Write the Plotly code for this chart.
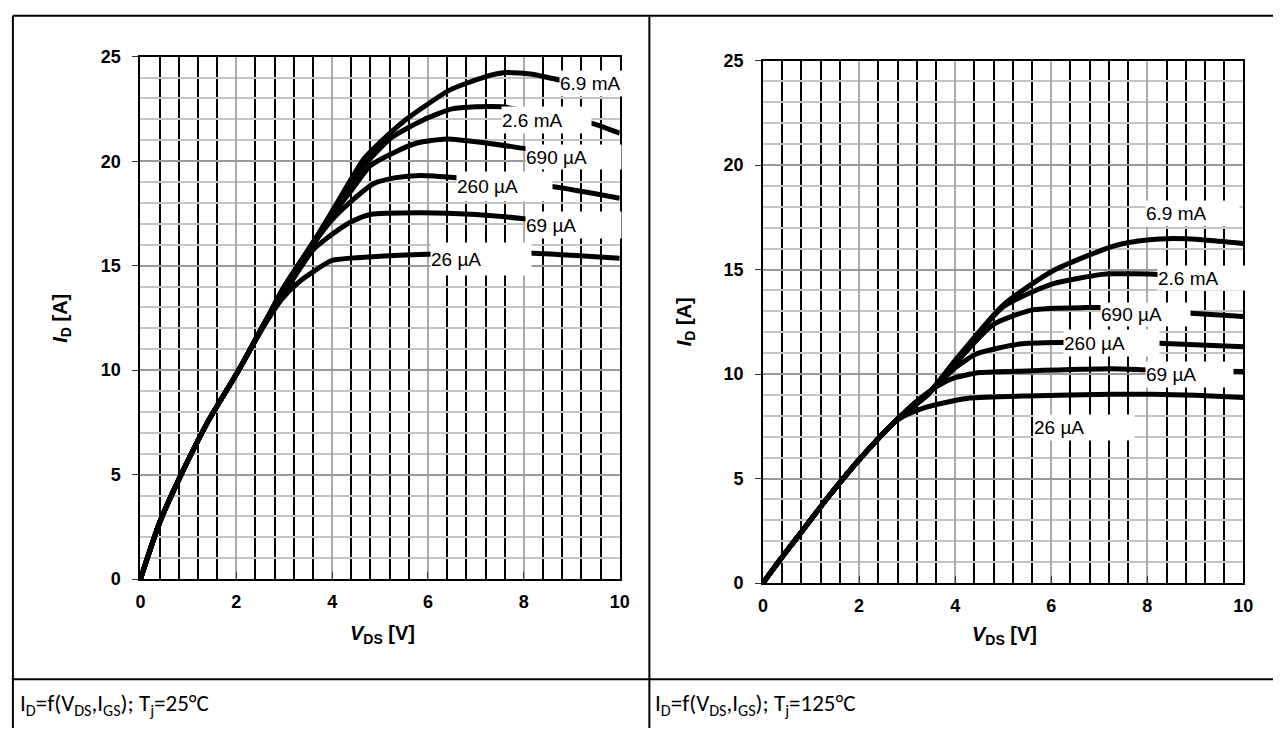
import plotly.graph_objects as go

W, H = 1283, 738

# ---------------- data ----------------
curve_labels = ["26 µA", "69 µA", "260 µA", "690 µA", "2.6 mA", "6.9 mA"]

# Tj = 25 °C
v25_26u = [0, 0.4, 0.85, 1.4, 2.05, 2.6, 2.95, 3.3, 3.6, 4.0, 5.0, 6.0, 7.0, 8.2, 9.0, 10.0]
i25_26u = [0, 2.7, 5.0, 7.5, 10.0, 12.2, 13.4, 14.2, 14.7, 15.25, 15.45, 15.55, 15.6, 15.6, 15.5, 15.35]
v25_69u = [0, 0.4, 0.85, 1.4, 2.05, 2.6, 3.0, 3.6, 4.0, 4.4, 4.8, 5.8, 7.0, 8.0, 9.0, 10.0]
i25_69u = [0, 2.7, 5.0, 7.5, 10.0, 12.3, 13.7, 15.75, 16.5, 17.1, 17.45, 17.53, 17.45, 17.25, 17.0, 16.8]
v25_260u = [0, 0.4, 0.85, 1.4, 2.05, 2.6, 3.0, 3.6, 4.0, 4.32, 4.87, 5.3, 5.84, 6.6, 7.5, 8.62, 10.0]
i25_260u = [0, 2.7, 5.0, 7.5, 10.0, 12.3, 13.8, 16.0, 17.2, 17.92, 18.93, 19.2, 19.32, 19.21, 19.0, 18.78, 18.23]
v25_690u = [0, 0.4, 0.85, 1.4, 2.05, 2.6, 3.0, 3.6, 4.0, 4.4, 4.8, 5.35, 5.77, 6.39, 7.21, 8.04, 9.0, 10.0]
i25_690u = [0, 2.7, 5.0, 7.5, 10.0, 12.3, 13.9, 16.0, 17.4, 18.6, 19.79, 20.48, 20.87, 21.06, 20.87, 20.6, 20.3, 20.0]
v25_2m6 = [0, 0.4, 0.85, 1.4, 2.05, 2.6, 3.0, 3.6, 4.0, 4.6, 5.22, 5.9, 6.5, 7.0, 7.55, 8.5, 9.44, 10.0]
i25_2m6 = [0, 2.7, 5.0, 7.5, 10.0, 12.3, 14.0, 16.1, 17.5, 19.6, 21.1, 21.97, 22.5, 22.6, 22.6, 22.2, 21.8, 21.34]
v25_6m9 = [0, 0.4, 0.85, 1.4, 2.05, 2.6, 3.0, 3.6, 4.0, 4.66, 5.0, 5.49, 5.9, 6.45, 7.21, 7.62, 8.2, 8.72, 10.0]
i25_6m9 = [0, 2.7, 5.0, 7.5, 10.0, 12.3, 14.0, 16.1, 17.6, 20.1, 20.9, 21.9, 22.58, 23.4, 24.05, 24.24, 24.15, 23.9, 23.5]

# Tj = 125 °C
v125_26u = [0, 0.35, 0.7, 1.37, 2.0, 2.8, 3.29, 3.97, 4.31, 5.5, 7.26, 8.09, 9.0, 10.0]
i125_26u = [0, 1.1, 2.15, 4.15, 5.9, 7.8, 8.33, 8.72, 8.85, 8.95, 9.03, 9.03, 8.98, 8.88]
v125_69u = [0, 0.35, 0.7, 1.37, 2.0, 2.8, 3.2, 3.63, 3.97, 4.52, 5.5, 7.26, 8.02, 9.0, 10.0]
i125_69u = [0, 1.1, 2.15, 4.15, 5.9, 7.85, 8.7, 9.42, 9.81, 10.07, 10.15, 10.25, 10.2, 10.15, 10.12]
v125_260u = [0, 0.35, 0.7, 1.37, 2.0, 2.8, 3.42, 4.0, 4.45, 5.34, 6.23, 7.2, 8.25, 9.0, 10.0]
i125_260u = [0, 1.1, 2.15, 4.15, 5.9, 7.85, 9.0, 10.3, 10.97, 11.44, 11.51, 11.5, 11.47, 11.4, 11.31]
v125_690u = [0, 0.35, 0.7, 1.37, 2.0, 2.8, 3.42, 4.0, 4.79, 5.62, 6.72, 7.06, 8.0, 8.91, 10.0]
i125_690u = [0, 1.1, 2.15, 4.15, 5.9, 7.85, 9.0, 10.5, 12.37, 13.07, 13.18, 13.18, 13.05, 12.91, 12.76]
v125_2m6 = [0, 0.35, 0.7, 1.37, 2.0, 2.8, 3.42, 4.0, 5.0, 6.03, 7.06, 7.26, 8.22, 9.0, 10.0]
i125_2m6 = [0, 1.1, 2.15, 4.15, 5.9, 7.85, 9.0, 10.6, 13.22, 14.31, 14.77, 14.8, 14.77, 14.6, 14.4]
v125_6m9 = [0, 0.35, 0.7, 1.37, 2.0, 2.8, 3.42, 4.0, 5.0, 6.03, 7.26, 7.81, 8.43, 9.2, 10.0]
i125_6m9 = [0, 1.1, 2.15, 4.15, 5.9, 7.85, 9.0, 10.65, 13.3, 14.93, 16.1, 16.37, 16.48, 16.42, 16.25]

x_tick_vals = [0, 2, 4, 6, 8, 10]
y_tick_vals = [0, 5, 10, 15, 20, 25]

captions = ["I<sub>D</sub>=f(V<sub>DS</sub>,I<sub>GS</sub>); T<sub>j</sub>=25°C",
            "I<sub>D</sub>=f(V<sub>DS</sub>,I<sub>GS</sub>); T<sub>j</sub>=125°C"]

panels = [
    ("x", "y", [(v25_26u, i25_26u), (v25_69u, i25_69u), (v25_260u, i25_260u),
                (v25_690u, i25_690u), (v25_2m6, i25_2m6), (v25_6m9, i25_6m9)]),
    ("x2", "y2", [(v125_26u, i125_26u), (v125_69u, i125_69u), (v125_260u, i125_260u),
                  (v125_690u, i125_690u), (v125_2m6, i125_2m6), (v125_6m9, i125_6m9)]),
]

# ---------------- styling / placement ----------------
# label boxes: (x_data_center, y_data_center, width_px, height_px) in order of curve_labels
label_boxes = [
    [(7.11, 15.32, 100, 32), (9.04, 16.95, 95, 26), (7.60, 18.78, 95, 29),
     (9.04, 20.20, 95, 24), (8.48, 21.97, 89, 26), (9.46, 23.72, 68, 25)],
    [(6.69, 7.43, 100, 25), (8.88, 9.99, 87, 25), (7.25, 11.48, 95, 26),
     (7.97, 12.83, 89, 23), (9.14, 14.62, 88, 24), (8.94, 17.67, 93, 25)],
]

def px2x(p):
    return p / W

def px2y(p):
    return 1 - p / H

domains = [
    dict(x=[px2x(137), px2x(622)], y=[px2y(585), px2y(48)]),
    dict(x=[px2x(767), px2x(1253)], y=[px2y(589), px2y(52)]),
]

fig = go.Figure()

for (xa, ya, curves) in panels:
    for (vx, iy) in curves:
        fig.add_trace(go.Scatter(x=vx, y=iy, xaxis=xa, yaxis=ya, mode="lines",
                                 line=dict(color="black", width=5, shape="spline", smoothing=0.6),
                                 showlegend=False, hoverinfo="skip"))

tick_font = dict(family="Liberation Sans, Arial, sans-serif", size=18, color="black", weight="bold")

def xaxis_cfg(dom, anchor):
    return dict(domain=dom, anchor=anchor, range=[0, 10], tickmode="array", tickvals=x_tick_vals,
                showgrid=True, gridcolor="#a9a9a9", gridwidth=2,
                minor=dict(dtick=0.4, tick0=0, showgrid=True, gridcolor="black", gridwidth=2, ticks=""),
                ticks="inside", ticklen=7, tickcolor="#333", tickwidth=1,
                showline=True, linecolor="black", linewidth=2, mirror=True, zeroline=False,
                tickfont=tick_font, ticklabelstandoff=5, fixedrange=True)

def yaxis_cfg(dom, anchor):
    return dict(domain=dom, anchor=anchor, range=[0, 25], tickmode="array", tickvals=y_tick_vals,
                showgrid=True, gridcolor="#9a9a9a", gridwidth=2,
                minor=dict(dtick=1, tick0=0, showgrid=True, gridcolor="#c4c4c4", gridwidth=2, ticks=""),
                ticks="outside", ticklen=6, tickcolor="#333", tickwidth=1,
                showline=True, linecolor="black", linewidth=2, mirror=True, zeroline=False,
                tickfont=tick_font, ticklabelstandoff=8, fixedrange=True)

fig.update_layout(
    width=W, height=H, margin=dict(l=0, r=0, t=0, b=0),
    paper_bgcolor="white", plot_bgcolor="white",
    xaxis=xaxis_cfg(domains[0]["x"], "y"),
    yaxis=yaxis_cfg(domains[0]["y"], "x"),
    xaxis2=xaxis_cfg(domains[1]["x"], "y2"),
    yaxis2=yaxis_cfg(domains[1]["y"], "x2"),
)

annotations = []
label_font = dict(family="Liberation Sans, Arial, sans-serif", size=19, color="black")
for k, (xa, ya, _) in enumerate(panels):
    for lab, (bx, by, bw, bh) in zip(curve_labels, label_boxes[k]):
        annotations.append(dict(x=bx, y=by, xref=xa, yref=ya, text=lab, showarrow=False,
                                xanchor="center", yanchor="middle", width=bw, height=bh,
                                align="left", valign="middle", bgcolor="white", borderpad=0,
                                font=label_font))

title_font = dict(family="Liberation Sans, Arial, sans-serif", size=20, color="black", weight="bold")
# axis titles
for cx, cy in [(382, 642), (1011, 643)]:
    annotations.append(dict(x=px2x(cx), y=px2y(cy), xref="paper", yref="paper",
                            text="<b><i>V</i><sub>DS</sub> [V]</b>", showarrow=False,
                            xanchor="center", yanchor="middle", font=title_font))
for cx, cy in [(57, 317), (688, 320)]:
    annotations.append(dict(x=px2x(cx), y=px2y(cy), xref="paper", yref="paper",
                            text="<b><i>I</i><sub>D</sub> [A]</b>", showarrow=False, textangle=-90,
                            xanchor="center", yanchor="middle", font=title_font))

cap_font = dict(family="Carlito, 'Liberation Sans Narrow', 'Open Sans', sans-serif", size=23, color="black")
for cx, cap in zip([13, 656], captions):
    annotations.append(dict(x=px2x(cx), y=px2y(714), xref="paper", yref="paper", text=cap,
                            showarrow=False, xanchor="left", yanchor="middle", font=cap_font))

fig.update_layout(annotations=annotations)

# table frame
frame = [
    (8, 6, 1283, 6),
    (8, 6, 8, 738),
    (652, 6, 652, 738),
    (8, 688, 1283, 688),
]
fig.update_layout(shapes=[dict(type="line", xref="paper", yref="paper",
                               x0=px2x(a), y0=px2y(b), x1=px2x(c), y1=px2y(d),
                               line=dict(color="black", width=2)) for a, b, c, d in frame])

fig.write_html("out.html")
